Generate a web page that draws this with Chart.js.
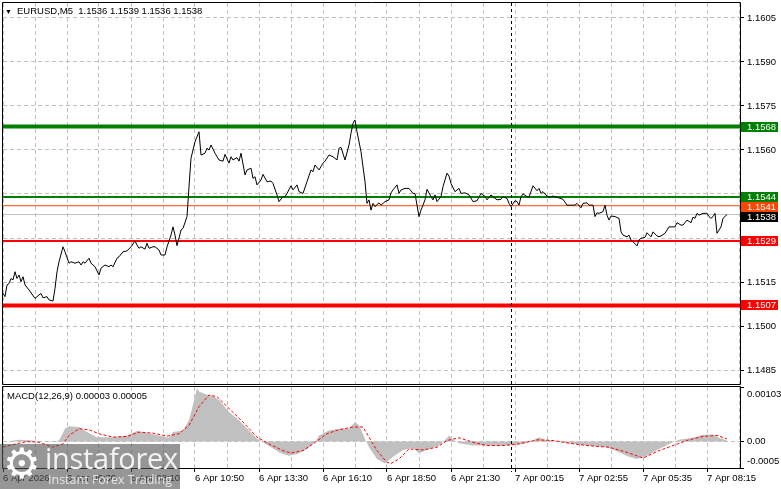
<!DOCTYPE html>
<html><head><meta charset="utf-8">
<script src="https://cdn.jsdelivr.net/npm/chart.js@4/dist/chart.umd.min.js"></script>
<style>
html,body{margin:0;padding:0;background:#fff;width:781px;height:489px;overflow:hidden;font-family:'Liberation Sans',Arial,sans-serif}
#wrap{position:relative;width:781px;height:489px}
canvas{position:absolute;left:0;display:block}
#main{top:0}
#macd{top:384px}
.txt{position:absolute;font-size:9.5px;line-height:11px;color:#000;white-space:pre}
#wm{position:absolute;left:0;top:444px;width:180px;height:45px;background:rgba(85,85,85,0.62);z-index:5;overflow:hidden}
#wm .gear{position:absolute;left:3px;top:-4px;font-family:'DejaVu Sans';font-size:42px;line-height:48px;color:#fff}
#wm .big{position:absolute;left:45px;top:-3px;font-family:'Open Sans',sans-serif;font-size:29px;line-height:34px;color:#f4f4f4;letter-spacing:-0.3px}
#wm .small{position:absolute;left:48px;top:29px;font-family:'Open Sans',sans-serif;font-size:12.5px;line-height:14px;color:#e6e6e6}
</style></head>
<body><div id="wrap">
<canvas id="main" width="781" height="386"></canvas>
<canvas id="macd" width="781" height="105"></canvas>
<div class="txt" id="hdrTri" style="left:5px;top:6px;font-size:7px">▼</div>
<div class="txt" id="hdr" style="left:17px;top:5px"></div>
<div class="txt" id="macdTitle" style="left:7px;top:390px"></div>
<div id="wm"><div class="gear">⚙</div><div class="big">instaforex</div><div class="small">Instant Forex Trading</div></div>
</div>
<script>
// ---------- data ----------
const symbol = 'EURUSD,M5';
const ohlc = [1.1536, 1.1539, 1.1536, 1.1538];
const timeLabels = ['6 Apr 2026','6 Apr 05:30','6 Apr 08:10','6 Apr 10:50','6 Apr 13:30','6 Apr 16:10','6 Apr 18:50','6 Apr 21:30','7 Apr 00:15','7 Apr 02:55','7 Apr 05:35','7 Apr 08:15'];
const barsPerLabel = 32;
const barsPerGrid = 16;
const priceTicks = [1.1485,1.1500,1.1515,1.1530,1.1545,1.1560,1.1575,1.1590,1.1605];
const levelValues = [1.1568, 1.1544, 1.1541, 1.1538, 1.1529, 1.1507];
const separatorBar = 254.5;
const macdParams = [12,26,9];
const macdLast = [0.00003, 0.00005];
const macdAxisValues = [0.00103, 0, -0.0005];
// [bar, close]
const priceSeries = [[0,1.15111],[1,1.15100],[2,1.15140],[3,1.15145],[4,1.15162],[5,1.15157],[6,1.15185],[7,1.15162],[8,1.15174],[9,1.15151],[10,1.15168],[11,1.15140],[13,1.15123],[16,1.15094],[18,1.15106],[19,1.15111],[20,1.15096],[22,1.15100],[23,1.15089],[25,1.15085],[26,1.15128],[27,1.15185],[28,1.15219],[30,1.15270],[31,1.15253],[33,1.15214],[34,1.15219],[36,1.15214],[38,1.15219],[39,1.15208],[40,1.15219],[41,1.15214],[43,1.15231],[44,1.15214],[46,1.15202],[48,1.15174],[49,1.15197],[51,1.15208],[53,1.15202],[54,1.15208],[55,1.15202],[57,1.15231],[58,1.15236],[60,1.15253],[62,1.15256],[64,1.15270],[66,1.15290],[67,1.15276],[68,1.15265],[69,1.15270],[71,1.15262],[72,1.15282],[73,1.15265],[75,1.15270],[76,1.15270],[78,1.15259],[79,1.15242],[81,1.15242],[82,1.15270],[84,1.15310],[85,1.15338],[86,1.15310],[87,1.15274],[88,1.15299],[89,1.15327],[90,1.15333],[92,1.15373],[93,1.15475],[94,1.15572],[96,1.15628],[98,1.15662],[99,1.15583],[101,1.15589],[102,1.15606],[103,1.15600],[104,1.15617],[106,1.15589],[108,1.15566],[110,1.15562],[111,1.15585],[113,1.15555],[114,1.15577],[115,1.15566],[117,1.15574],[118,1.15562],[119,1.15589],[121,1.15515],[122,1.15532],[124,1.15538],[125,1.15503],[126,1.15509],[127,1.15481],[129,1.15498],[130,1.15517],[132,1.15492],[134,1.15494],[135,1.15486],[137,1.15447],[138,1.15424],[140,1.15441],[141,1.15441],[142,1.15452],[144,1.15478],[145,1.15464],[147,1.15481],[148,1.15458],[150,1.15452],[152,1.15492],[154,1.15532],[155,1.15526],[156,1.15549],[158,1.15532],[160,1.15555],[161,1.15562],[163,1.15583],[165,1.15577],[167,1.15566],[168,1.15606],[169,1.15609],[171,1.15566],[173,1.15617],[174,1.15657],[175,1.15691],[176,1.15702],[177,1.15662],[179,1.15594],[181,1.15492],[182,1.15418],[183,1.15430],[184,1.15395],[185,1.15418],[186,1.15407],[188,1.15420],[189,1.15412],[191,1.15424],[193,1.15430],[194,1.15454],[195,1.15464],[197,1.15481],[198,1.15452],[199,1.15464],[201,1.15469],[203,1.15469],[205,1.15452],[206,1.15452],[207,1.15412],[208,1.15373],[209,1.15395],[211,1.15430],[212,1.15466],[214,1.15441],[215,1.15430],[216,1.15447],[217,1.15424],[219,1.15441],[220,1.15475],[222,1.15521],[223,1.15511],[224,1.15486],[226,1.15458],[228,1.15469],[229,1.15452],[231,1.15454],[233,1.15447],[235,1.15424],[237,1.15427],[239,1.15452],[241,1.15441],[242,1.15430],[244,1.15447],[245,1.15441],[247,1.15430],[249,1.15432],[250,1.15441],[252,1.15435],[253,1.15418],[254,1.15407],[256,1.15427],[257,1.15424],[258,1.15412],[259,1.15441],[260,1.15450],[262,1.15441],[263,1.15439],[265,1.15478],[267,1.15461],[268,1.15469],[269,1.15452],[270,1.15458],[272,1.15443],[273,1.15439],[275,1.15443],[277,1.15439],[280,1.15432],[282,1.15412],[286,1.15412],[287,1.15418],[289,1.15403],[290,1.15418],[292,1.15420],[293,1.15412],[295,1.15412],[296,1.15373],[297,1.15386],[298,1.15384],[300,1.15390],[301,1.15412],[302,1.15378],[303,1.15361],[304,1.15375],[306,1.15373],[308,1.15367],[309,1.15321],[310,1.15310],[312,1.15304],[313,1.15310],[314,1.15293],[315,1.15287],[317,1.15273],[318,1.15293],[319,1.15299],[321,1.15302],[322,1.15318],[324,1.15304],[325,1.15321],[327,1.15307],[328,1.15304],[329,1.15307],[331,1.15316],[333,1.15338],[336,1.15338],[337,1.15352],[339,1.15344],[340,1.15344],[342,1.15361],[344,1.15352],[345,1.15371],[346,1.15367],[347,1.15384],[348,1.15378],[350,1.15384],[352,1.15384],[353,1.15373],[354,1.15367],[355,1.15373],[356,1.15384],[357,1.15316],[358,1.15327],[359,1.15338],[360,1.15367],[362,1.15380]];
// [bar, MACD main (histogram)]
const macdHist = [[0,-0.00001],[8,0.000032],[15,0.000019],[23,-0.00001],[28,0.00002],[31,0.000242],[33,0.000287],[38,0.000274],[42,0.000178],[47,0.000083],[55,0.000083],[62,0.000115],[67,0.000197],[72,0.000159],[78,0.000115],[83,0.00007],[85,0.000178],[90,0.00021],[93,0.000401],[96,0.000847],[97,0.00101],[98,0.000943],[101,0.000898],[105,0.00086],[108,0.000784],[113,0.00056],[118,0.000401],[123,0.00021],[127,0.000051],[130,-0.000013],[134,-0.000108],[139,-0.000223],[143,-0.000268],[147,-0.000236],[152,-0.00014],[156,-0.000013],[158,0.000115],[163,0.00021],[168,0.000242],[173,0.000242],[176,0.000369],[178,0.000306],[181,0.000051],[183,-0.000108],[187,-0.000331],[191,-0.000414],[195,-0.000287],[200,-0.000159],[205,-0.000121],[208,-0.000223],[213,-0.00014],[217,-0.000096],[220,-0.000013],[223,0.000115],[225,0.000032],[228,-0.000032],[235,-0.000076],[244,-0.000076],[252,-0.000076],[260,-0.000045],[264,0],[268,0.000083],[271,0.000032],[277,0.000006],[283,-0.000032],[292,-0.000076],[302,-0.000108],[308,-0.000204],[313,-0.000287],[317,-0.000331],[322,-0.000268],[328,-0.00014],[333,-0.000045],[338,0.000032],[345,0.00007],[350,0.000127],[355,0.000134],[358,0.00007],[362,0.000019]];
// [bar, signal]
const macdSignal = [[0,-0.000108],[5,-0.000057],[12,0],[18,-0.000013],[25,-0.000108],[30,-0.000045],[33,0.000115],[38,0.000242],[43,0.000223],[48,0.000147],[55,0.000083],[62,0.000096],[68,0.000178],[75,0.000159],[82,0.000102],[88,0.000147],[93,0.000306],[98,0.000656],[103,0.000879],[107,0.000847],[113,0.000624],[120,0.000369],[127,0.000083],[133,-0.000045],[140,-0.000172],[144,-0.000217],[150,-0.000172],[155,-0.000045],[162,0.000147],[168,0.000223],[175,0.000274],[180,0.000274],[183,0.000083],[187,-0.000172],[192,-0.000395],[194,-0.000414],[198,-0.000331],[203,-0.00014],[210,-0.000159],[217,-0.000108],[222,0.000019],[228,0.00007],[235,-0.000013],[242,-0.000076],[250,-0.000076],[258,-0.000045],[267,0.000032],[275,0.000019],[283,-0.000032],[292,-0.000076],[303,-0.000108],[312,-0.000204],[320,-0.000312],[328,-0.000172],[335,-0.000076],[343,0.000032],[350,0.000096],[357,0.000115],[362,0.00005]];

// ---------- styles ----------
const FONT = "'Liberation Sans', Arial, sans-serif";
const FS = 9.5;
const levelStyles = [
  {color:'#008000', width:4}, {color:'#008000', width:2}, {color:'#ff4500', width:1},
  {color:'#c0c0c0', width:1, box:'#000000'}, {color:'#ff0000', width:2}, {color:'#ff0000', width:4}
];
const X_MIN = 0, X_MAX = 368.5;
const gridBars = [];
for (let b = 0; b <= 368; b += barsPerGrid) gridBars.push(b);

document.getElementById('hdr').textContent = symbol + '  ' + ohlc.map(v=>v.toFixed(4)).join(' ');
document.getElementById('macdTitle').textContent = 'MACD(' + macdParams.join(',') + ') ' + macdLast.map(v=>v.toFixed(5)).join(' ');

const pts = arr => arr.map(p => ({x:p[0], y:p[1]}));

const framePlugin = {
  id:'frame',
  afterDraw(chart){
    const {ctx, chartArea:a} = chart;
    ctx.save(); ctx.strokeStyle='#000'; ctx.lineWidth=1; ctx.setLineDash([]);
    ctx.beginPath();
    ctx.moveTo(a.left-0.5, a.top-0.5); ctx.lineTo(a.right+0.5, a.top-0.5);
    ctx.lineTo(a.right+0.5, a.bottom+0.5); ctx.lineTo(a.left-0.5, a.bottom+0.5); ctx.closePath();
    ctx.stroke(); ctx.restore();
  }
};
const sepPlugin = {
  id:'sep',
  afterDatasetsDraw(chart, args, opts){
    const {ctx, chartArea:a, scales} = chart;
    const x = Math.round(scales.x.getPixelForValue(separatorBar)) - 0.5;
    ctx.save(); ctx.strokeStyle='#000'; ctx.lineWidth=1; ctx.setLineDash([3,3]);
    ctx.beginPath(); ctx.moveTo(x, a.top); ctx.lineTo(x, a.bottom + (opts.extra||0)); ctx.stroke(); ctx.restore();
  }
};
const levelLabelPlugin = {
  id:'levelLabels',
  afterDraw(chart){
    const {ctx, scales} = chart; const y = scales.y;
    const items = levelValues.map((v,i)=>({v, py:y.getPixelForValue(v), st:levelStyles[i]})).sort((a,b)=>a.py-b.py);
    let prevBottom = -1e9; const h = 10;
    ctx.save(); ctx.font = FS + 'px ' + FONT; ctx.textBaseline='middle'; ctx.textAlign='left';
    items.forEach(it=>{
      let top = Math.round(it.py - h/2);
      if (top < prevBottom) top = prevBottom;
      prevBottom = top + h;
      ctx.fillStyle = it.st.box || it.st.color;
      ctx.fillRect(y.left + 1, top, 37, h);
      ctx.fillStyle = '#fff';
      ctx.fillText(it.v.toFixed(4), y.left + 7, top + h/2 + 0.5);
    });
    ctx.restore();
  }
};
const macdAxisPlugin = {
  id:'macdAxis',
  afterDraw(chart){
    const {ctx, scales} = chart; const y = scales.y;
    ctx.save(); ctx.font = FS + 'px ' + FONT; ctx.fillStyle='#000'; ctx.textBaseline='middle'; ctx.textAlign='left';
    macdAxisValues.forEach(v=>{
      let py = y.getPixelForValue(v);
      py = Math.min(Math.max(py, y.top + 7), y.bottom - 7);
      const s = v === 0 ? '0.00' : String(v);
      ctx.fillText(s, y.left + 7, py);
    });
    ctx.restore();
  }
};

new Chart(document.getElementById('main'), {
  type:'line',
  data:{datasets:[
    {data:pts(priceSeries), borderColor:'#000', borderWidth:1, pointRadius:0, tension:0, fill:false, order:0},
    ...levelValues.map((v,i)=>({data:[{x:X_MIN,y:v},{x:X_MAX,y:v}], borderColor:levelStyles[i].color, borderWidth:levelStyles[i].width, pointRadius:0, fill:false, order:1}))
  ]},
  options:{
    responsive:false, animation:false, devicePixelRatio:1,
    layout:{padding:{left:3, top:3, right:0, bottom:2}},
    plugins:{legend:{display:false}, tooltip:{enabled:false}},
    scales:{
      x:{type:'linear', min:X_MIN, max:X_MAX,
        afterBuildTicks:s=>{s.ticks = gridBars.map(v=>({value:v}));},
        afterFit:s=>{s.height=0; s.paddingLeft=0; s.paddingRight=0;},
        ticks:{display:false},
        grid:{color:'#c0c0c0', drawTicks:false, lineWidth:1},
        border:{display:false, dash:[4,3]}},
      y:{type:'linear', position:'right', min:1.148023, max:1.161011,
        afterBuildTicks:s=>{s.ticks = priceTicks.map(v=>({value:v}));},
        afterFit:s=>{s.width=41; s.paddingTop=0; s.paddingBottom=0;},
        ticks:{color:'#000', padding:3, font:{family:FONT, size:FS},
          callback:v => levelValues.some(l=>Math.abs(l-v)<0.00025) ? '' : Number(v).toFixed(4)},
        grid:{color:'#c0c0c0', tickColor:'#000', tickLength:4, lineWidth:1},
        border:{display:false, dash:[4,3]}}
    }
  },
  plugins:[sepPlugin, framePlugin, levelLabelPlugin]
});

new Chart(document.getElementById('macd'), {
  type:'line',
  data:{datasets:[
    {data:pts(macdSignal), borderColor:'#ff0000', borderWidth:1, borderDash:[3,2], pointRadius:0, tension:0, fill:false, order:0},
    {data:pts(macdHist), borderColor:'rgba(0,0,0,0)', borderWidth:0, backgroundColor:'#c0c0c0', pointRadius:0, tension:0, fill:'origin', order:1}
  ]},
  options:{
    responsive:false, animation:false, devicePixelRatio:1,
    layout:{padding:{left:3, top:3, right:0, bottom:0}},
    plugins:{legend:{display:false}, tooltip:{enabled:false}, sep:{extra:4}},
    scales:{
      x:{type:'linear', min:X_MIN, max:X_MAX,
        afterBuildTicks:s=>{s.ticks = gridBars.map(v=>({value:v}));},
        afterFit:s=>{s.height=21; s.paddingLeft=0; s.paddingRight=0;},
        ticks:{display:true, autoSkip:false, maxRotation:0, minRotation:0, align:'start', padding:1, color:'#000',
          font:{family:FONT, size:FS},
          callback:v => (v % barsPerLabel === 0 && timeLabels[v/barsPerLabel]) ? timeLabels[v/barsPerLabel] : ''},
        grid:{color:'#c0c0c0', tickLength:4, lineWidth:1,
          tickColor:c => (c.tick && c.tick.value % barsPerLabel === 0) ? '#000' : 'rgba(0,0,0,0)'},
        border:{display:false, dash:[4,3]}},
      y:{type:'linear', position:'right', min:-0.0005, max:0.00103,
        afterBuildTicks:s=>{s.ticks = macdAxisValues.map(v=>({value:v}));},
        afterFit:s=>{s.width=41; s.paddingTop=0; s.paddingBottom=0;},
        ticks:{display:false},
        grid:{color:c => (c.tick && c.tick.value === 0) ? '#c0c0c0' : 'rgba(0,0,0,0)', tickColor:'#000', tickLength:4, lineWidth:1},
        border:{display:false, dash:[4,3]}}
    }
  },
  plugins:[sepPlugin, framePlugin, macdAxisPlugin]
});
</script>
</body></html>
